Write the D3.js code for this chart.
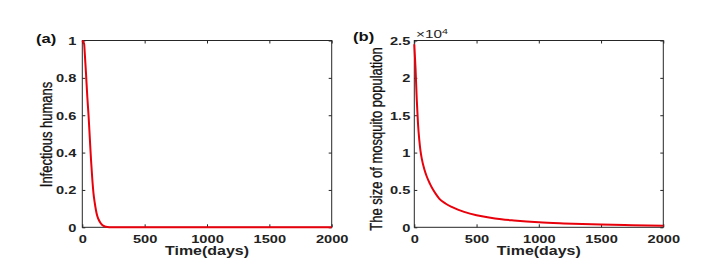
<!DOCTYPE html>
<html><head><meta charset="utf-8">
<script src="https://cdn.jsdelivr.net/npm/d3@7"></script>
<style>body{margin:0;background:#fff}svg{display:block}</style>
</head><body>
<script>
// ---- data ----
const xTicks = [0, 500, 1000, 1500, 2000];
const yTicksA = [0, 0.2, 0.4, 0.6, 0.8, 1];
const yTicksB = [0, 0.5, 1, 1.5, 2, 2.5];
const daysA = [0, 10, 15, 20, 30, 40, 50, 60, 70, 80, 90, 100, 110, 120, 140, 160, 180, 200, 250, 300, 500, 1000, 1500, 2000];
const humansA = [1.0, 0.99, 0.98, 0.93, 0.82, 0.70, 0.60, 0.48, 0.36, 0.26, 0.18, 0.13, 0.09, 0.06, 0.03, 0.012, 0.005, 0.002, 0.0005, 0, 0, 0, 0, 0];
const daysB = [0, 10, 20, 30, 40, 50, 60, 80, 100, 125, 150, 175, 200, 250, 300, 350, 400, 500, 600, 700, 800, 1000, 1200, 1500, 1750, 2000];
const mosqB = [2.45, 2.12, 1.7, 1.38, 1.17, 1.02, 0.92, 0.78, 0.68, 0.585, 0.505, 0.44, 0.385, 0.318, 0.272, 0.236, 0.207, 0.162, 0.131, 0.108, 0.092, 0.067, 0.052, 0.036, 0.028, 0.021];
const labelsA = {panel: "(a)", y: "Infectious humans", x: "Time(days)"};
const labelsB = {panel: "(b)", y: "The size of mosquito population", x: "Time(days)", exp: "×10", expSup: "4"};

const W = 701, H = 266, SX = 1.33;
const FONT = "'Liberation Sans', Arial, Helvetica, sans-serif";
const svg = d3.select("body").append("svg").attr("width", W).attr("height", H)
  .style("font-family", FONT);

function panel(cfg) {
  const {left, right, top, bottom, ymax, yTicks, days, vals, labels, yGap, yFmt} = cfg;
  const x = d3.scaleLinear().domain([0, 2000]).range([left, right]);
  const y = d3.scaleLinear().domain([0, ymax]).range([bottom, top]);
  const g = svg.append("g");
  // box
  g.append("rect").attr("x", left).attr("y", top).attr("width", right - left).attr("height", bottom - top)
    .attr("fill", "none").attr("stroke", "#262626").attr("stroke-width", 1);
  // axes
  const xb = g.append("g").attr("transform", `translate(0,${bottom})`)
    .call(d3.axisBottom(x).tickValues(xTicks).tickSizeInner(-3).tickSizeOuter(0).tickFormat(d3.format("d")));
  const xt = g.append("g").attr("transform", `translate(0,${top})`)
    .call(d3.axisTop(x).tickValues(xTicks).tickSizeInner(-3).tickSizeOuter(0).tickFormat(""));
  const yl = g.append("g").attr("transform", `translate(${left},0)`)
    .call(d3.axisLeft(y).tickValues(yTicks).tickSizeInner(-3).tickSizeOuter(0).tickFormat(yFmt));
  const yr = g.append("g").attr("transform", `translate(${right},0)`)
    .call(d3.axisRight(y).tickValues(yTicks).tickSizeInner(-3).tickSizeOuter(0).tickFormat(""));
  [xb, xt, yl, yr].forEach(a => {
    a.select(".domain").remove();
    a.selectAll("line").attr("stroke", "#262626");
  });
  xb.selectAll("text").attr("y", null).attr("dy", null)
    .attr("transform", `translate(0,15.5) scale(${SX},1)`)
    .attr("text-anchor", "middle").attr("fill", "#222")
    .style("font-size", "11px").style("font-weight", "bold").style("font-family", FONT);
  yl.selectAll("text").attr("x", null).attr("dy", null)
    .attr("transform", `translate(${-yGap},3.9) scale(${SX},1)`)
    .attr("text-anchor", "end").attr("fill", "#222")
    .style("font-size", "11px").style("font-weight", "bold").style("font-family", FONT);
  // line
  const line = d3.line().x((d, i) => x(days[i])).y(d => y(d)).curve(d3.curveMonotoneX);
  g.append("path").datum(vals).attr("d", line).attr("fill", "none")
    .attr("stroke", "#e8000b").attr("stroke-width", 2).attr("stroke-linejoin", "round");
  // x title
  g.append("text").attr("transform", `translate(${(left + right) / 2},255.3) scale(${SX},1)`)
    .attr("text-anchor", "middle").style("font-size", "12px").style("font-weight", "bold")
    .attr("fill", "#222").text(labels.x);
  // y title
  g.append("text").attr("transform", `translate(${cfg.yTitleX},${cfg.yTitleY}) scale(${SX},1) rotate(-90)`)
    .attr("text-anchor", "middle").attr("dominant-baseline", "central").style("font-size", "13px")
    .attr("fill", "#111").attr("stroke", "#111").attr("stroke-width", 0.25).text(labels.y);
  // panel tag
  g.append("text").attr("transform", `translate(${cfg.tagX},${cfg.tagY}) scale(${SX},1)`)
    .style("font-size", "12.5px").style("font-weight", "bold").attr("fill", "#111").text(labels.panel);
  return {g, x, y};
}

panel({left: 82.3, right: 331.7, top: 40.5, bottom: 227.3, ymax: 1, yTicks: yTicksA,
  days: daysA, vals: humansA, labels: labelsA, yGap: 6, yFmt: d => d3.format("")(d),
  yTitleX: 45.5, yTitleY: 134.5, tagX: 36, tagY: 42.5});
const pb = panel({left: 414.3, right: 663.3, top: 40.5, bottom: 227.3, ymax: 2.5, yTicks: yTicksB,
  days: daysB, vals: mosqB, labels: labelsB, yGap: 4, yFmt: d => d3.format("")(d),
  yTitleX: 375.5, yTitleY: 139, tagX: 353, tagY: 41});
// exponent
pb.g.append("text").attr("transform", `translate(416,38.3) scale(${SX},1)`)
  .style("font-size", "11.5px").attr("fill", "#222").text(labelsB.exp);
pb.g.append("text").attr("transform", `translate(442,33.5) scale(${SX},1)`)
  .style("font-size", "8px").attr("fill", "#222").text(labelsB.expSup);
</script>
</body></html>
